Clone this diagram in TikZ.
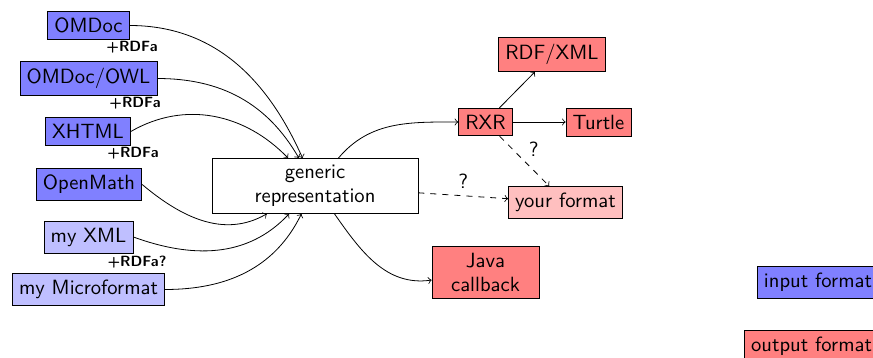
\documentclass[tikz,border=0pt]{standalone}
\begin{document}
\begin{tikzpicture}[x=0.5pt, y=-0.5pt, font=\sffamily\fontsize{10.3}{12}\selectfont,
  box/.style={draw=black, line width=0.4pt},
  infmt/.style={box, fill=blue!50},
  inlight/.style={box, fill=blue!25},
  outfmt/.style={box, fill=red!50},
  outlight/.style={box, fill=red!25},
  tag/.style={font=\sffamily\bfseries\fontsize{7.4}{9}\selectfont, inner sep=0pt},
  flow/.style={->},
  maybe/.style={->, dashed}]
\useasboundingbox (0,0) rectangle (873,358);

% input formats
\node[infmt]   (omdoc)    at (88.5,25.5)  {OMDoc};
\node[infmt]   (owl)      at (88.5,78.5)  {OMDoc/OWL};
\node[infmt]   (xhtml)    at (88,131.5)   {XHTML};
\node[infmt]   (openmath) at (89,184.5)   {OpenMath};
\node[inlight] (myxml)    at (88.5,237)   {my XML};
\node[inlight] (micro)    at (88.5,289.5) {my Microformat};

\node[tag] (t1) at (132,47)  {+RDFa};
\node[tag] (t2) at (135,103) {+RDFa};
\node[tag] (t3) at (133,153) {+RDFa};
\node[tag] (t4) at (137,262) {+RDFa?};

% internal representation
\node[box, align=center, minimum width=103pt, minimum height=27pt] (gen) at (315,186)
  {generic\\representation};

% output formats
\node[outfmt]   (rxr)    at (485.5,122)  {RXR};
\node[outfmt]   (rdf)    at (552,54.5)   {RDF/XML};
\node[outfmt]   (turtle) at (598.5,122)  {Turtle};
\node[outlight] (yf)     at (565.5,202.5) {your format};
\node[outfmt, align=center, minimum width=53.5pt] (java) at (485.5,272.5) {Java\\callback};

% legend
\node[infmt,  anchor=east]       (lin)  at (879,282.5) {input format};
\node[outfmt, anchor=north east] (lout) at (879,330)   {output format};

% inputs into the generic representation
\draw[flow] (omdoc.east)    to[out=0,   in=114] (gen);
\draw[flow] (owl.east)      to[out=0,   in=120] (gen);
\draw[flow] (xhtml.east)    to[out=30,  in=134] (gen);
\draw[flow] (openmath.east) to[out=-40, in=210] (gen);
\draw[flow] (myxml.east)    to[out=-20, in=227] (gen);
\draw[flow] (micro.east)    to[out=0,   in=244] (gen);

% outputs
\draw[flow] (gen) to[out=50,  in=180] (rxr);
\draw[flow] (gen) to[out=-55, in=188] (java);
\draw[maybe] (gen) -- node[above] {?} (yf);
\draw[flow] (rxr) -- (rdf);
\draw[flow] (rxr) -- (turtle);
\draw[maybe] (rxr) -- node[above right, inner sep=2pt] {?} (yf);
\end{tikzpicture}
\end{document}
